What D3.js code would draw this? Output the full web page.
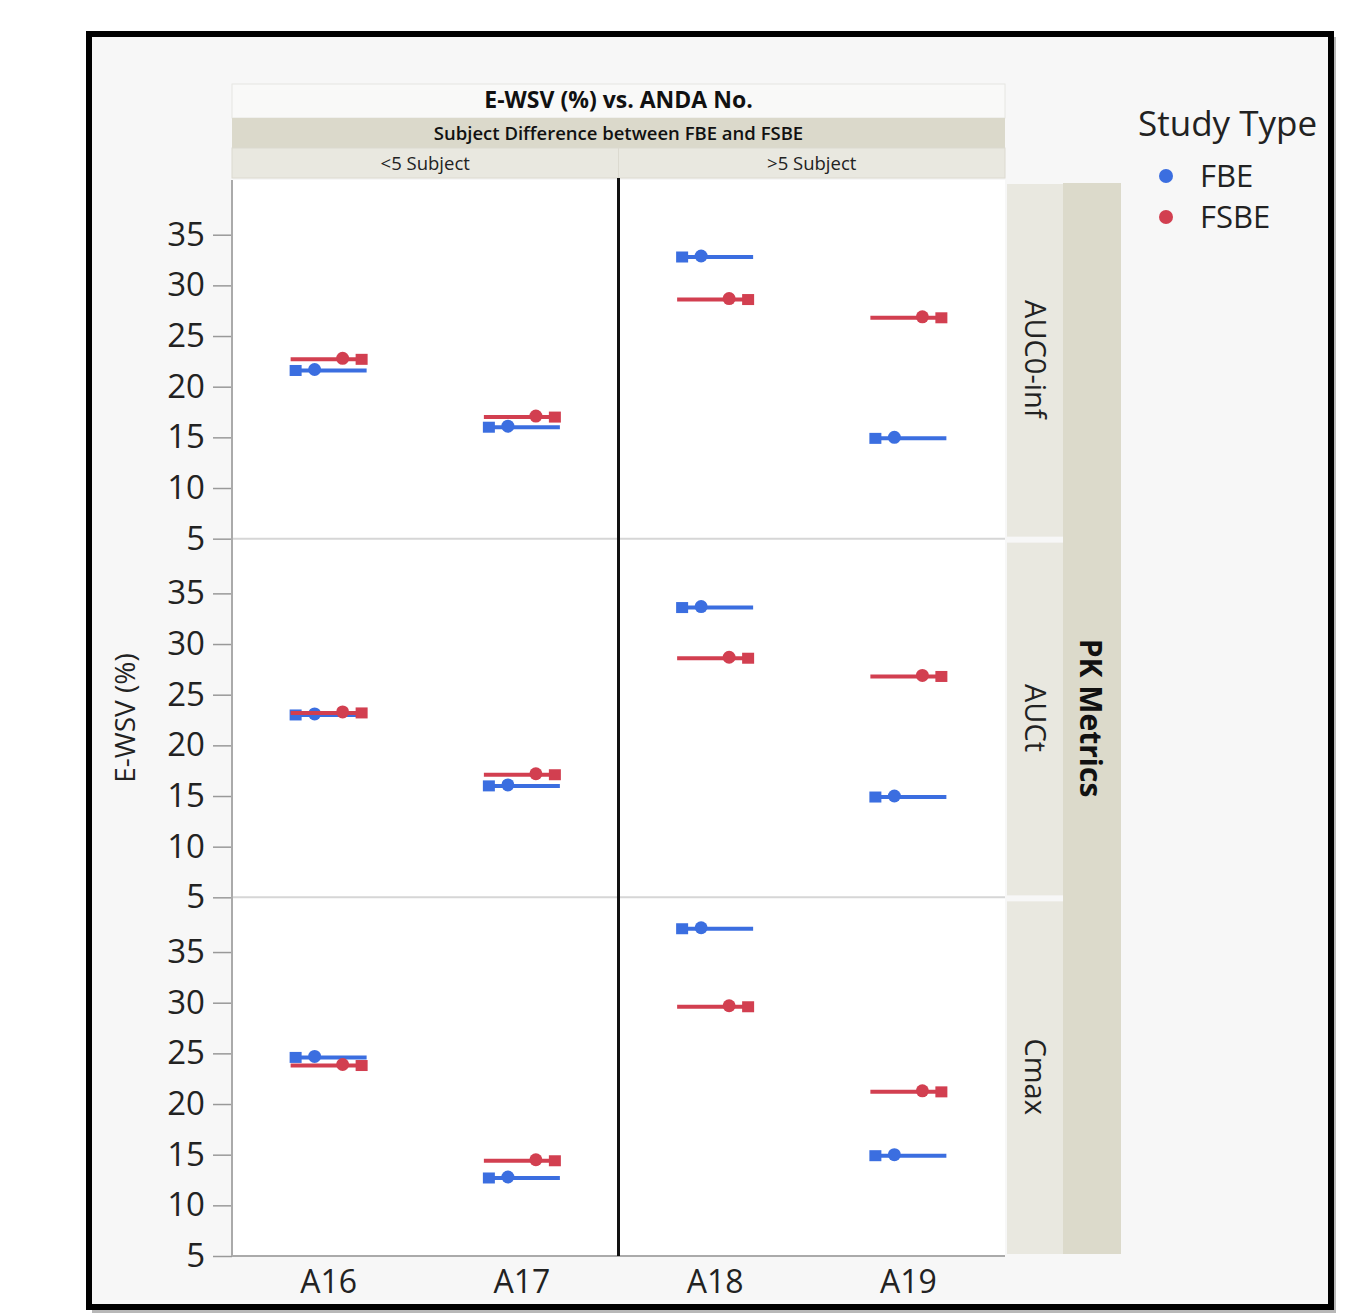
<!DOCTYPE html>
<html>
<head>
<meta charset="utf-8">
<script src="https://d3js.org/d3.v7.min.js"></script>
<style>
  body { margin: 0; background: #fff; }
  svg { display: block; font-family: "Open Sans", "Noto Sans", sans-serif; }
</style>
</head>
<body>
<svg id="chart" width="1346" height="1313"></svg>
<script>
// data
var categories = ["A16", "A17", "A18", "A19"]
var groups = ["<5 Subject", ">5 Subject"]
var groupOf = ["<5 Subject", "<5 Subject", ">5 Subject", ">5 Subject"]
var metrics = ["AUC0-inf", "AUCt", "Cmax"]
var studyTypes = ["FBE", "FSBE"]
var yTicks = [5, 10, 15, 20, 25, 30, 35]

var fbeAUCinf  = [21.6, 16.0, 32.8, 14.9]
var fsbeAUCinf = [22.7, 17.0, 28.6, 26.8]
var fbeAUCt    = [23.0, 16.0, 33.6, 14.9]
var fsbeAUCt   = [23.2, 17.1, 28.6, 26.8]
var fbeCmax    = [24.6, 12.7, 37.3, 14.9]
var fsbeCmax   = [23.8, 14.4, 29.6, 21.2]

var seriesByMetric = {
  "AUC0-inf": {FBE: fbeAUCinf, FSBE: fsbeAUCinf},
  "AUCt": {FBE: fbeAUCt, FSBE: fsbeAUCt},
  "Cmax": {FBE: fbeCmax, FSBE: fsbeCmax}
}

var color = d3.scaleOrdinal().domain(studyTypes).range(["#3b6ee0", "#d23f50"])

var svg = d3.select("#chart")

// outer frame
svg.append("rect").attr("x", 92).attr("y", 37).attr("width", 1244).attr("height", 1276).attr("fill", "#b8b8b8")
svg.append("rect").attr("x", 89).attr("y", 34).attr("width", 1242).attr("height", 1273)
  .attr("fill", "#f7f7f7").attr("stroke", "#000").attr("stroke-width", 6)

var plotL = 232, plotR = 1005, plotT = 180, plotB = 1256

var xGroup = d3.scaleBand().domain(groups).range([plotL, plotR])
var rowScale = d3.scaleBand().domain(metrics).range([plotT, plotB])

// header bands
svg.append("rect").attr("x", plotL).attr("y", 84).attr("width", plotR - plotL).attr("height", 34)
  .attr("fill", "#f9f9f8").attr("stroke", "#e6e6e2")
svg.append("text").attr("x", (plotL + plotR) / 2).attr("y", 108).attr("text-anchor", "middle")
  .attr("font-size", 23).attr("font-weight", "bold").attr("fill", "#111").text("E-WSV (%) vs. ANDA No.")
svg.append("rect").attr("x", plotL).attr("y", 118).attr("width", plotR - plotL).attr("height", 30).attr("fill", "#dbd9cb")
svg.append("text").attr("x", (plotL + plotR) / 2).attr("y", 140).attr("text-anchor", "middle")
  .attr("font-size", 18.5).attr("font-weight", 600).attr("fill", "#111").text("Subject Difference between FBE and FSBE")
groups.forEach(function(g) {
  svg.append("rect").attr("x", xGroup(g)).attr("y", 148).attr("width", xGroup.bandwidth()).attr("height", 30)
    .attr("fill", "#e9e8e0").attr("stroke", "#dcdad0")
  svg.append("text").attr("x", xGroup(g) + xGroup.bandwidth() / 2).attr("y", 170).attr("text-anchor", "middle")
    .attr("font-size", 18.5).attr("fill", "#222").text(g)
})

// right strips
svg.append("rect").attr("x", 1063).attr("y", 183).attr("width", 58).attr("height", 1071).attr("fill", "#dcdacb")
svg.append("text").attr("transform", "translate(1080," + ((plotT + plotB) / 2) + ") rotate(90)")
  .attr("text-anchor", "middle").attr("font-size", 30).attr("font-weight", "bold").attr("fill", "#111").text("PK Metrics")

metrics.forEach(function(m) {
  var y0 = rowScale(m), h = rowScale.bandwidth()
  svg.append("rect").attr("x", 1007).attr("y", y0 + 4).attr("width", 56).attr("height", h - 6).attr("fill", "#e9e8e0")
  svg.append("text").attr("transform", "translate(1025," + (y0 + h / 2) + ") rotate(90)")
    .attr("text-anchor", "middle").attr("font-size", 29).attr("fill", "#222").text(m)
})

// panels
metrics.forEach(function(m, mi) {
  var y0 = rowScale(m), h = rowScale.bandwidth()
  var y = d3.scaleLinear().domain([5, 40.4]).range([y0 + h, y0])

  svg.append("rect").attr("x", plotL).attr("y", y0).attr("width", plotR - plotL).attr("height", h).attr("fill", "#fff")
  if (mi > 0) {
    svg.append("line").attr("x1", plotL).attr("x2", plotR).attr("y1", y0).attr("y2", y0)
      .attr("stroke", "#d6d6d6").attr("stroke-width", 2)
  }

  var axis = svg.append("g").attr("transform", "translate(" + plotL + ",0)")
    .call(d3.axisLeft(y).tickValues(yTicks).tickSize(19).tickPadding(8))
  axis.select(".domain").remove()
  axis.selectAll(".tick line").attr("stroke", "#999").attr("stroke-width", 1.5)
  axis.selectAll(".tick text").attr("font-size", 33).attr("fill", "#222")
    .attr("font-family", "'Open Sans', sans-serif")

  groups.forEach(function(g) {
    var cats = categories.filter(function(c, i) { return groupOf[i] === g })
    var xCat = d3.scaleBand().domain(cats).range([xGroup(g), xGroup(g) + xGroup.bandwidth()])
    cats.forEach(function(c) {
      var ci = categories.indexOf(c)
      var cx = xCat(c) + xCat.bandwidth() / 2
      studyTypes.forEach(function(s, si) {
        var v = seriesByMetric[m][s][ci]
        var col = color(s)
        var gy = y(v)
        svg.append("line").attr("x1", cx - 38).attr("x2", cx + 38).attr("y1", gy).attr("y2", gy)
          .attr("stroke", col).attr("stroke-width", 4)
        var sqx = si === 0 ? cx - 33 : cx + 33
        svg.append("rect").attr("x", sqx - 6).attr("y", gy - 5.5).attr("width", 12).attr("height", 11).attr("fill", col)
        var cirx = si === 0 ? cx - 14 : cx + 14
        svg.append("circle").attr("cx", cirx).attr("cy", gy - 1).attr("r", 6.5).attr("fill", col)
      })
    })
  })
})

// left axis line and bottom line
svg.append("line").attr("x1", plotL).attr("x2", plotL).attr("y1", plotT).attr("y2", plotB)
  .attr("stroke", "#aaa").attr("stroke-width", 2)
svg.append("line").attr("x1", plotL).attr("x2", plotR).attr("y1", plotB).attr("y2", plotB)
  .attr("stroke", "#aaa").attr("stroke-width", 2)

// divider between groups
svg.append("line").attr("x1", xGroup(groups[1])).attr("x2", xGroup(groups[1])).attr("y1", 178).attr("y2", plotB)
  .attr("stroke", "#111").attr("stroke-width", 3)

// x labels
groups.forEach(function(g) {
  var cats = categories.filter(function(c, i) { return groupOf[i] === g })
  var xCat = d3.scaleBand().domain(cats).range([xGroup(g), xGroup(g) + xGroup.bandwidth()])
  cats.forEach(function(c) {
    svg.append("text").attr("x", xCat(c) + xCat.bandwidth() / 2).attr("y", 1293).attr("text-anchor", "middle")
      .attr("font-size", 32).attr("fill", "#222").text(c)
  })
})

// y title
svg.append("text").attr("transform", "translate(135," + ((plotT + plotB) / 2) + ") rotate(-90)")
  .attr("text-anchor", "middle").attr("font-size", 28).attr("fill", "#222").text("E-WSV (%)")

// legend
svg.append("text").attr("x", 1138).attr("y", 136).attr("font-size", 35).attr("fill", "#222").text("Study Type")
studyTypes.forEach(function(s, i) {
  svg.append("circle").attr("cx", 1166).attr("cy", 176 + i * 41).attr("r", 7).attr("fill", color(s))
  svg.append("text").attr("x", 1200).attr("y", 187 + i * 41).attr("font-size", 31).attr("fill", "#222").text(s)
})
</script>
</body>
</html>
